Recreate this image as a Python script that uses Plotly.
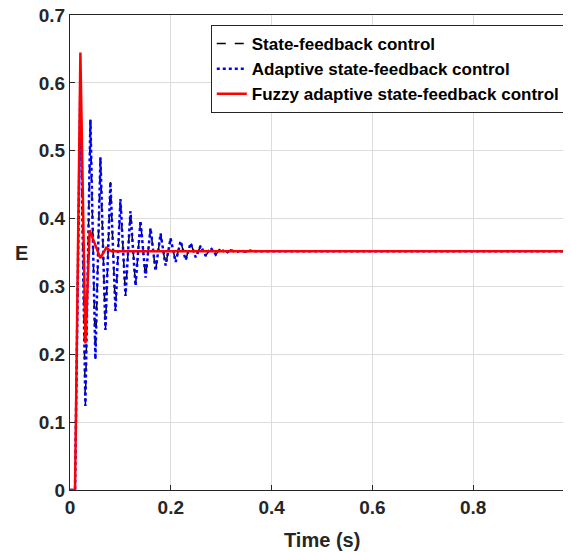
import plotly.graph_objects as go

# ---- data ----
adaptive_t = [0, 0.01, 0.0205, 0.0305, 0.0405, 0.0504, 0.0604, 0.0703, 0.0802, 0.0902,
              0.1001, 0.1101, 0.1200, 0.1300, 0.1399, 0.1499, 0.1598, 0.1698, 0.1797,
              0.1897, 0.1996, 0.2096, 0.2195, 0.2295, 0.2394, 0.2494, 0.2593, 0.2693,
              0.2792, 0.2892, 0.2991, 0.3091, 0.3190, 0.3290, 0.3389, 0.3489, 0.3588,
              0.3688, 1.0]
adaptive_E = [0, 0, 0.59, 0.124, 0.546, 0.193, 0.490, 0.236, 0.454, 0.264,
              0.429, 0.286, 0.411, 0.301, 0.397, 0.313, 0.386, 0.323, 0.378,
              0.331, 0.371, 0.336, 0.367, 0.339, 0.364, 0.343, 0.360, 0.345,
              0.357, 0.347, 0.356, 0.349, 0.354, 0.350, 0.353, 0.351, 0.353,
              0.352, 0.352]
state_t = list(adaptive_t)
state_E = list(adaptive_E)
fuzzy_t = [0, 0.01, 0.0206, 0.0306, 0.039, 0.060, 0.072, 0.082, 1.0]
fuzzy_E = [0, 0, 0.645, 0.216, 0.383, 0.342, 0.357, 0.352, 0.352]

x_ticks = [0, 0.2, 0.4, 0.6, 0.8, 1]
x_labels = ["0", "0.2", "0.4", "0.6", "0.8", "1"]
y_ticks = [0, 0.1, 0.2, 0.3, 0.4, 0.5, 0.6, 0.7]
y_labels = ["0", "0.1", "0.2", "0.3", "0.4", "0.5", "0.6", "0.7"]

FONT = "Liberation Sans, Arial, Helvetica, sans-serif"
DARK = "#262626"

fig = go.Figure()
fig.add_trace(go.Scatter(x=state_t, y=state_E, mode="lines",
                         name="<b>State-feedback control</b>",
                         line=dict(color="black", width=1.5, dash="dash")))
fig.add_trace(go.Scatter(x=adaptive_t, y=adaptive_E, mode="lines",
                         name="<b>Adaptive state-feedback control</b>",
                         line=dict(color="#0000ff", width=2.5, dash="dot")))
fig.add_trace(go.Scatter(x=fuzzy_t, y=fuzzy_E, mode="lines",
                         name="<b>Fuzzy adaptive state-feedback control</b>",
                         line=dict(color="#ff0000", width=2.5)))

axis_common = dict(showgrid=True, gridcolor="#dcdcdc", gridwidth=1,
                   showline=True, linecolor=DARK, linewidth=1, mirror=True,
                   ticks="inside", ticklen=5, tickcolor=DARK, zeroline=False,
                   automargin=False, ticklabeloverflow="allow",
                   tickfont=dict(family=FONT, size=19, color=DARK))

fig.update_xaxes(range=[0, 0.994], tickvals=x_ticks,
                 ticktext=["<b>%s</b>" % s for s in x_labels], **axis_common)
fig.update_yaxes(range=[0, 0.7002], tickvals=y_ticks,
                 ticktext=["<b>%s</b>" % s for s in y_labels], **axis_common)

# page body has an 8px margin, so the figure is 8px smaller and margins shifted
fig.update_layout(
    width=563, height=544,
    margin=dict(l=62, r=0, t=7, b=62, autoexpand=False),
    paper_bgcolor="white", plot_bgcolor="white",
    font=dict(family=FONT, color=DARK),
    showlegend=True,
    legend=dict(x=0.281, y=0.979, xanchor="left", yanchor="top",
                bgcolor="white", bordercolor=DARK, borderwidth=1,
                font=dict(family=FONT, size=17, color="black"),
                tracegroupgap=0, itemwidth=30),
    annotations=[
        dict(text="<b>Time (s)</b>", xref="paper", yref="paper",
             x=0.502, y=-0.105, xanchor="center", yanchor="middle",
             showarrow=False, font=dict(family=FONT, size=20, color=DARK)),
        dict(text="<b>E</b>", xref="paper", yref="paper",
             x=-0.096, y=0.5, xanchor="center", yanchor="middle",
             showarrow=False, font=dict(family=FONT, size=20, color=DARK)),
    ],
)

fig.write_html("out.html")
